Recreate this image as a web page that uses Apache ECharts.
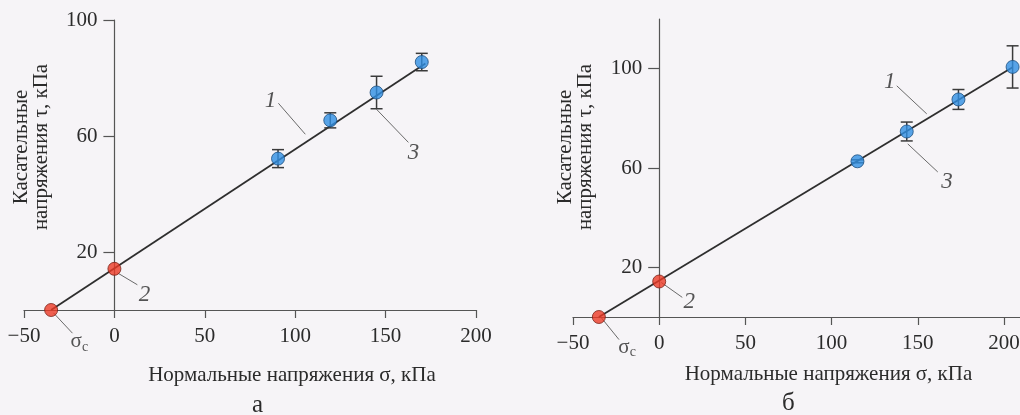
<!DOCTYPE html>
<html>
<head>
<meta charset="utf-8">
<script src="https://cdn.jsdelivr.net/npm/echarts@6/dist/echarts.min.js"></script>
<style>
html,body{margin:0;padding:0;background:#f6f4f7;}
#c{width:1020px;height:415px;}
</style>
</head>
<body>
<div id="c"></div>
<script>
// ---------- data ----------
const xTicks = [-50, 0, 50, 100, 150, 200];
const yTicks = [20, 60, 100];
const xName = 'Нормальные напряжения σ, кПа';
const yName = 'Касательные\nнапряжения τ, кПа';

// Panel а
const fitA = [[-35, 0], [172, 85]];
const redA = [[-35, 0], [0, 14.2]];
const blueA = [[90.5, 52.2], [119.4, 65.4], [145, 75], [170, 85.5]];
const errA = [3.1, 2.6, 5.6, 3.0];
const leaderA = [[[105.6, 60.6], [90.7, 71.3]], [[145, 69.2], [162.6, 57.8]], [[1.7, 12.8], [12.7, 8.7]], [[-33.7, -1], [-23.2, -8]]];
const labelA = [[86.4, 72, '1'], [165.4, 54.3, '3'], [16.6, 5.2, '2'], [-19.4, -11, 'σc']];

// Panel б
const fitB = [[-35, 0], [205, 100.6]];
const redB = [[-35, 0], [0, 14.3]];
const blueB = [[115, 62.7], [143.6, 74.7], [173.6, 87.6], [205, 100.7]];
const errB = [0.6, 3.8, 4.0, 8.5];
const leaderB = [[[155.2, 81.8], [137.8, 93.1]], [[144.2, 69.7], [161.6, 58.4]], [[1.2, 13.9], [13.4, 7.9]], [[-33.7, -0.2], [-23.3, -9.1]]];
const labelB = [[133.7, 94.7, '1'], [166.9, 54.3, '3'], [17.4, 5.9, '2'], [-18.6, -12.3, 'σc']];

// ---------- chart ----------
const FONT = '"Liberation Serif", "DejaVu Serif", serif';
const TXT = '#2b2b2b';
const W = 1020;
const grids = [
  {left: 24, right: 544, top: 20, bottom: 105, xMin: -50, xMax: 200, yMax: 100},
  {left: 573, right: 0, top: 19, bottom: 98, xMin: -50, xMax: 209.3, yMax: 120}
];
const chart = echarts.init(document.getElementById('c'));

function xAxis(gi, namePad, gap) {
  const g = grids[gi];
  return {
    type: 'value', gridIndex: gi, min: g.xMin, max: g.xMax,
    splitLine: {show: false},
    axisLine: {lineStyle: {color: '#555', width: 1.2}},
    axisTick: {customValues: xTicks, length: 8, lineStyle: {color: '#555', width: 1.2}},
    axisLabel: {customValues: xTicks, margin: 16, color: TXT, fontFamily: FONT, fontSize: 21,
      formatter: v => v < 0 ? '\u2212' + Math.abs(v) : String(v)},
    name: xName, nameLocation: 'middle', nameGap: gap, nameMoveOverlap: false,
    nameTextStyle: {color: TXT, fontFamily: FONT, fontSize: 21, padding: namePad}
  };
}
function yAxis(gi, namePad, gap) {
  const g = grids[gi];
  const width = W - g.left - g.right;
  // place the y axis at sigma = 0 (inside the grid)
  const off = -(0 - g.xMin) / (g.xMax - g.xMin) * width;
  return {
    type: 'value', gridIndex: gi, min: 0, max: g.yMax, offset: off,
    splitLine: {show: false},
    axisLine: {onZero: false, lineStyle: {color: '#555', width: 1.2}},
    axisTick: {customValues: yTicks, length: 11, lineStyle: {color: '#555', width: 1.2}},
    axisLabel: {customValues: yTicks, margin: 17, color: TXT, fontFamily: FONT, fontSize: 21},
    name: yName, nameLocation: 'middle', nameGap: gap, nameMoveOverlap: false,
    nameTextStyle: {color: TXT, fontFamily: FONT, fontSize: 21, lineHeight: 20, padding: namePad}
  };
}

function errSeries(i, pts, err) {
  return {
    type: 'custom', xAxisIndex: i, yAxisIndex: i, z: 3,
    data: pts.map((p, k) => [p[0], p[1] - err[k], p[1] + err[k]]),
    renderItem: (params, api) => {
      const lo = api.coord([api.value(0), api.value(1)]);
      const hi = api.coord([api.value(0), api.value(2)]);
      const w = 6;
      const st = {stroke: '#3a3a3a', lineWidth: 1.5};
      return {type: 'group', children: [
        {type: 'line', shape: {x1: lo[0], y1: lo[1], x2: hi[0], y2: hi[1]}, style: st},
        {type: 'line', shape: {x1: lo[0] - w, y1: lo[1], x2: lo[0] + w, y2: lo[1]}, style: st},
        {type: 'line', shape: {x1: hi[0] - w, y1: hi[1], x2: hi[0] + w, y2: hi[1]}, style: st}
      ]};
    }
  };
}

function panel(i, fit, red, blue, err, leaders, labels) {
  return [
    {type: 'line', xAxisIndex: i, yAxisIndex: i, data: fit, symbol: 'none', z: 2,
     lineStyle: {color: '#2e2e2e', width: 1.8}, clip: false},
    {type: 'lines', coordinateSystem: 'cartesian2d', xAxisIndex: i, yAxisIndex: i, clip: false, z: 1,
     data: leaders.map(c => ({coords: c})), lineStyle: {color: '#6a6a6a', width: 1, opacity: 1}},
    errSeries(i, blue, err),
    {type: 'scatter', xAxisIndex: i, yAxisIndex: i, data: blue, symbolSize: 13, z: 4,
     itemStyle: {color: '#2f8fe2', borderColor: '#1d4f80', borderWidth: 1}},
    {type: 'scatter', xAxisIndex: i, yAxisIndex: i, data: red, symbolSize: 13, z: 4, clip: false,
     itemStyle: {color: '#ec3a26', borderColor: '#7a2218', borderWidth: 1}},
    {type: 'scatter', xAxisIndex: i, yAxisIndex: i, symbolSize: 0, clip: false, z: 5,
     data: labels.map(l => ({value: [l[0], l[1]], name: l[2]})),
     label: {show: true, position: 'inside', color: TXT, fontFamily: FONT,
       formatter: p => p.name === 'σc' ? '{s|σ}{c|c}' : '{n|' + p.name + '}',
       rich: {
         n: {fontFamily: FONT, fontSize: 23, fontStyle: 'italic', color: TXT},
         s: {fontFamily: FONT, fontSize: 21, color: TXT},
         c: {fontFamily: FONT, fontSize: 14, color: TXT, padding: [10, 0, 0, 0]}
       }}}
  ];
}

chart.setOption({
  backgroundColor: '#f6f4f7',
  animation: false,
  title: [
    {text: 'а', left: 247, top: 388, textStyle: {fontFamily: FONT, fontSize: 25, fontWeight: 'normal', color: TXT}},
    {text: 'б', left: 777, top: 386, textStyle: {fontFamily: FONT, fontSize: 25, fontWeight: 'normal', color: TXT}}
  ],
  grid: grids.map(g => ({left: g.left, right: g.right, top: g.top, bottom: g.bottom,
    containLabel: false, outerBoundsMode: 'none'})),
  xAxis: [xAxis(0, [0, 0, 0, 84], 55), xAxis(1, [0, 0, 0, 64], 47)],
  yAxis: [yAxis(0, [0, 0, 0, 36], 63), yAxis(1, [0, 0, 0, 42], 64)],
  series: [].concat(
    panel(0, fitA, redA, blueA, errA, leaderA, labelA),
    panel(1, fitB, redB, blueB, errB, leaderB, labelB)
  )
});
</script>
</body>
</html>
